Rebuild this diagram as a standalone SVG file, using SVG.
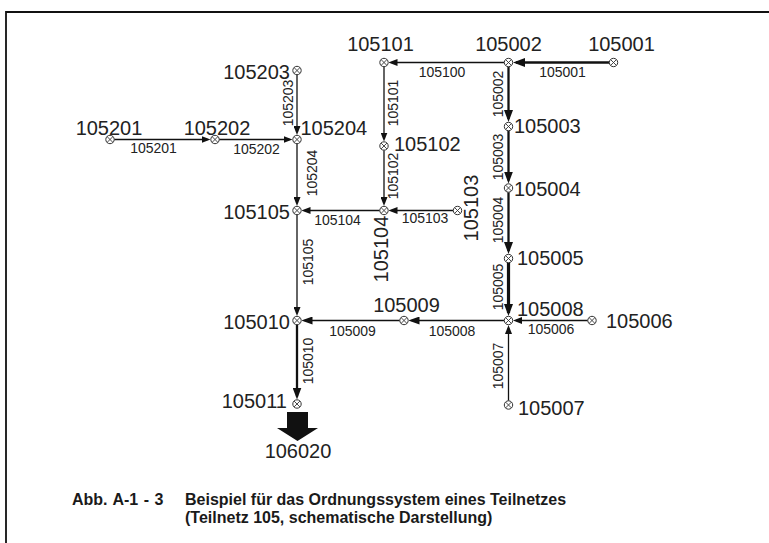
<svg xmlns="http://www.w3.org/2000/svg" xmlns:xlink="http://www.w3.org/1999/xlink" width="769" height="543" viewBox="0 0 769 543">
<style>
.frame{fill:none;stroke:#111;stroke-width:1.8}
.e{fill:none;stroke:#111}
.t{stroke-width:1.3}
.m{stroke-width:1.7}
.k{stroke-width:2.3}
.kk{stroke-width:3.2}
.nl{font-family:"Liberation Sans",Arial,sans-serif;font-size:20px;fill:#222}
.el{font-family:"Liberation Sans",Arial,sans-serif;font-size:14px;fill:#222}
.cap{font-family:"Liberation Sans",Arial,sans-serif;font-size:16px;font-weight:bold;fill:#1a1a1a}
</style>
<defs>
<g id="nd"><circle r="4.2" fill="#fff" stroke="#333" stroke-width="1"/><path d="M-2.9,-2.9L2.9,2.9M2.9,-2.9L-2.9,2.9" stroke="#333" stroke-width="0.9"/></g>
<marker id="aS" markerUnits="userSpaceOnUse" markerWidth="9" markerHeight="7" refX="6" refY="3.5" orient="auto"><path d="M0,0L9,3.5L0,7z" fill="#111"/></marker>
<marker id="aM" markerUnits="userSpaceOnUse" markerWidth="11" markerHeight="8" refX="8" refY="4" orient="auto"><path d="M0,0L11,4L0,8z" fill="#111"/></marker>
<marker id="aL" markerUnits="userSpaceOnUse" markerWidth="12" markerHeight="9" refX="9" refY="4.5" orient="auto"><path d="M0,0L12,4.5L0,9z" fill="#111"/></marker>
</defs>
<rect width="769" height="543" fill="#fff"/>
<path class="frame" d="M6,543V12H769"/>

<g id="connectors">
<line class="e k" x1="609.3" y1="62.5" x2="516" y2="62.5" marker-end="url(#aL)"/>
<line class="e t" x1="504.3" y1="62.5" x2="391.5" y2="62.5" marker-end="url(#aS)"/>
<line class="e t" x1="384" y1="66.7" x2="384" y2="138.5" marker-end="url(#aS)"/>
<line class="e t" x1="384" y1="150.2" x2="384" y2="203" marker-end="url(#aS)"/>
<line class="e t" x1="453.3" y1="210.5" x2="391.5" y2="210.5" marker-end="url(#aS)"/>
<line class="e t" x1="379.8" y1="210.5" x2="304.5" y2="210.5" marker-end="url(#aS)"/>
<line class="e t" x1="114.2" y1="139.5" x2="207.5" y2="139.5" marker-end="url(#aS)"/>
<line class="e t" x1="219.2" y1="139.5" x2="289.5" y2="139.5" marker-end="url(#aS)"/>
<line class="e t" x1="297" y1="74.7" x2="297" y2="132" marker-end="url(#aS)"/>
<line class="e t" x1="297" y1="143.7" x2="297" y2="203" marker-end="url(#aS)"/>
<line class="e t" x1="297" y1="214.7" x2="297" y2="313" marker-end="url(#aS)"/>
<line class="e k" x1="508.5" y1="66.7" x2="508.5" y2="119" marker-end="url(#aL)"/>
<line class="e k" x1="508.5" y1="130.7" x2="508.5" y2="180.5" marker-end="url(#aL)"/>
<line class="e k" x1="508.5" y1="192.2" x2="508.5" y2="251" marker-end="url(#aL)"/>
<line class="e kk" x1="508.5" y1="262.7" x2="508.5" y2="313" marker-end="url(#aL)"/>
<line class="e t" x1="587.8" y1="320.5" x2="516" y2="320.5" marker-end="url(#aS)"/>
<line class="e t" x1="508.5" y1="400.8" x2="508.5" y2="328" marker-end="url(#aS)"/>
<line class="e m" x1="504.3" y1="320.5" x2="411.5" y2="320.5" marker-end="url(#aM)"/>
<line class="e m" x1="399.8" y1="320.5" x2="304.5" y2="320.5" marker-end="url(#aM)"/>
<line class="e k" x1="297" y1="324.7" x2="297" y2="396.5" marker-end="url(#aL)"/>
<polygon points="287,412 308,412 308,428 318,428 297.5,441 277,428 287,428" fill="#111"/>
</g>

<g id="edge-labels">
<text class="el" x="562.5" y="77" text-anchor="middle">105001</text>
<text class="el" x="442" y="77" text-anchor="middle">105100</text>
<text class="el" x="153.5" y="153" text-anchor="middle">105201</text>
<text class="el" x="256.5" y="154" text-anchor="middle">105202</text>
<text class="el" x="337.5" y="225" text-anchor="middle">105104</text>
<text class="el" x="425" y="223" text-anchor="middle">105103</text>
<text class="el" x="352.5" y="336" text-anchor="middle">105009</text>
<text class="el" x="452" y="336" text-anchor="middle">105008</text>
<text class="el" x="551" y="334" text-anchor="middle">105006</text>
<text class="el" transform="translate(293,103) rotate(-90)" text-anchor="middle">105203</text>
<text class="el" transform="translate(316.5,173) rotate(-90)" text-anchor="middle">105204</text>
<text class="el" transform="translate(398,103) rotate(-90)" text-anchor="middle">105101</text>
<text class="el" transform="translate(398,176) rotate(-90)" text-anchor="middle">105102</text>
<text class="el" transform="translate(503,94) rotate(-90)" text-anchor="middle">105002</text>
<text class="el" transform="translate(503,157) rotate(-90)" text-anchor="middle">105003</text>
<text class="el" transform="translate(503,220) rotate(-90)" text-anchor="middle">105004</text>
<text class="el" transform="translate(503,287) rotate(-90)" text-anchor="middle">105005</text>
<text class="el" transform="translate(503,366) rotate(-90)" text-anchor="middle">105007</text>
<text class="el" transform="translate(313,262) rotate(-90)" text-anchor="middle">105105</text>
<text class="el" transform="translate(313,361) rotate(-90)" text-anchor="middle">105010</text>
</g>

<g id="n105001"><use xlink:href="#nd" x="613.5" y="62.5"/><text class="nl" x="621.5" y="51" text-anchor="middle">105001</text></g>
<g id="n105002"><use xlink:href="#nd" x="508.5" y="62.5"/><text class="nl" x="508.5" y="51" text-anchor="middle">105002</text></g>
<g id="n105101"><use xlink:href="#nd" x="384" y="62.5"/><text class="nl" x="380.5" y="51" text-anchor="middle">105101</text></g>
<g id="n105102"><use xlink:href="#nd" x="384" y="146"/><text class="nl" x="394" y="151" text-anchor="start">105102</text></g>
<g id="n105104"><use xlink:href="#nd" x="384" y="210.5"/><text class="nl" transform="translate(387.5,249) rotate(-90)" text-anchor="middle">105104</text></g>
<g id="n105103"><use xlink:href="#nd" x="457.5" y="210.5"/><text class="nl" transform="translate(477.5,208) rotate(-90)" text-anchor="middle">105103</text></g>
<g id="n105003"><use xlink:href="#nd" x="508.5" y="126.5"/><text class="nl" x="514" y="133" text-anchor="start">105003</text></g>
<g id="n105004"><use xlink:href="#nd" x="508.5" y="188"/><text class="nl" x="514" y="195.5" text-anchor="start">105004</text></g>
<g id="n105005"><use xlink:href="#nd" x="508.5" y="258.5"/><text class="nl" x="517" y="265" text-anchor="start">105005</text></g>
<g id="n105008"><use xlink:href="#nd" x="508.5" y="320.5"/><text class="nl" x="517" y="316" text-anchor="start">105008</text></g>
<g id="n105006"><use xlink:href="#nd" x="592" y="320.5"/><text class="nl" x="606" y="327.5" text-anchor="start">105006</text></g>
<g id="n105007"><use xlink:href="#nd" x="508.5" y="405"/><text class="nl" x="518" y="415" text-anchor="start">105007</text></g>
<g id="n105009"><use xlink:href="#nd" x="404" y="320.5"/><text class="nl" x="406.5" y="311.5" text-anchor="middle">105009</text></g>
<g id="n105010"><use xlink:href="#nd" x="297" y="320.5"/><text class="nl" x="290" y="329" text-anchor="end">105010</text></g>
<g id="n105011"><use xlink:href="#nd" x="297" y="404"/><text class="nl" x="287" y="408" text-anchor="end">105011</text></g>
<g id="n106020"><text class="nl" x="298" y="458" text-anchor="middle">106020</text></g>
<g id="n105105"><use xlink:href="#nd" x="297" y="210.5"/><text class="nl" x="290" y="219" text-anchor="end">105105</text></g>
<g id="n105204"><use xlink:href="#nd" x="297" y="139.5"/><text class="nl" x="300.5" y="135" text-anchor="start">105204</text></g>
<g id="n105203"><use xlink:href="#nd" x="297" y="70.5"/><text class="nl" x="290" y="79" text-anchor="end">105203</text></g>
<g id="n105202"><use xlink:href="#nd" x="215" y="139.5"/><text class="nl" x="217" y="135" text-anchor="middle">105202</text></g>
<g id="n105201"><use xlink:href="#nd" x="110" y="139.5"/><text class="nl" x="109" y="135" text-anchor="middle">105201</text></g>

<g id="caption">
<text class="cap" x="72" y="505" word-spacing="1">Abb. A-1 - 3</text>
<text class="cap" x="185" y="505">Beispiel für das Ordnungssystem eines Teilnetzes</text>
<text class="cap" x="185" y="523">(Teilnetz 105, schematische Darstellung)</text>
</g>
</svg>
